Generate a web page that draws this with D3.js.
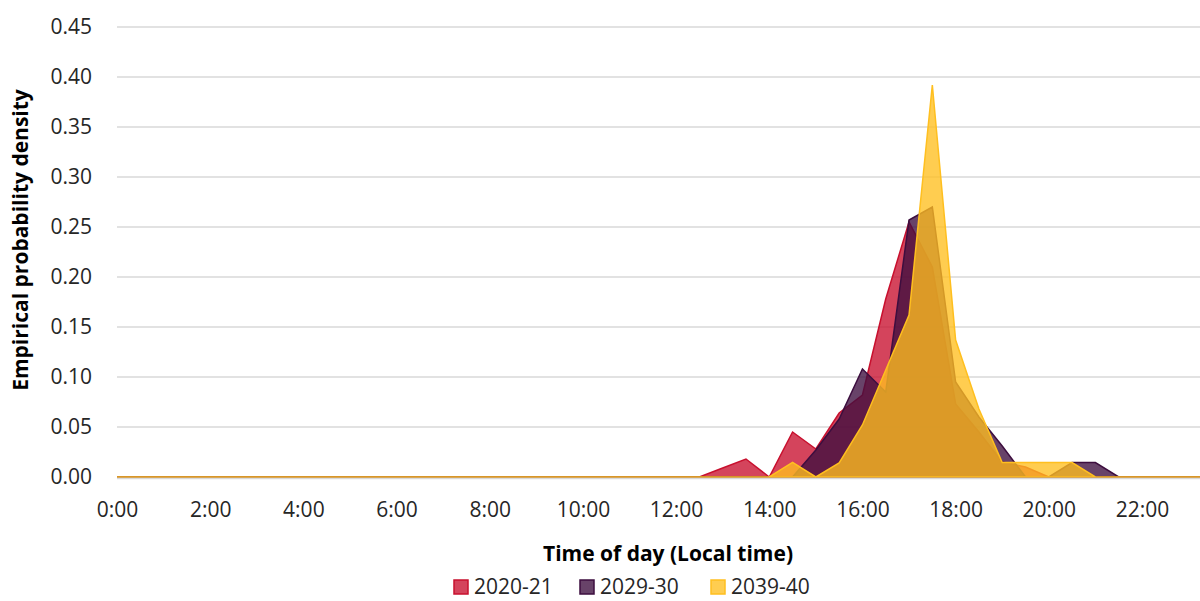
<!DOCTYPE html>
<html><head><meta charset="utf-8">
<script src="https://cdn.jsdelivr.net/npm/d3@7"></script>
<style>
html,body{margin:0;padding:0;background:#fff;}
svg{display:block;}
text{font-family:"Open Sans","Noto Sans",sans-serif;}
</style></head>
<body>
<svg id="chart" width="1200" height="601"></svg>
<script>
// Half-hour time categories 0:00 .. 23:30
const times = d3.range(48).map(i => Math.floor(i/2) + ":" + (i%2 ? "30" : "00"));
const tickLabels = ["0:00","2:00","4:00","6:00","8:00","10:00","12:00","14:00","16:00","18:00","20:00","22:00"];
const yTicks = [0,0.05,0.10,0.15,0.20,0.25,0.30,0.35,0.40,0.45];
const seriesNames = ["2020-21","2029-30","2039-40"];
const seriesColors = ["#C8102E","#3D0E3F","#FFBF1F"];

const z25 = new Array(25).fill(0);
// 2020-21 (index 25 = 12:30 ... 47 = 23:30)
const s2020 = z25.concat([0,0.009,0.018,0,0.045,0.028,0.064,0.082,0.178,0.255,0.21,0.073,0.045,0.015,0.01,0,0,0,0,0,0,0,0]);
// 2029-30
const s2029 = z25.concat([0,0,0,0,0,0.027,0.058,0.108,0.085,0.257,0.27,0.095,0.06,0.031,0,0,0.0145,0.0145,0,0,0,0,0]);
// 2039-40
const s2039 = z25.concat([0,0,0,0,0.0147,0,0.014,0.052,0.107,0.162,0.392,0.137,0.068,0.0145,0.0145,0.0145,0.0145,0,0,0,0,0,0]);
const seriesValues = [s2020, s2029, s2039];

const svg = d3.select("#chart");
const x = d3.scaleLinear().domain([0, 47]).range([117, 117 + 47*23.295]);
const y = d3.scaleLinear().domain([0, 0.45]).range([477, 27]);

// gridlines
svg.append("g").selectAll("line").data(yTicks.slice(1)).join("line")
  .attr("x1", 117).attr("x2", 1300)
  .attr("y1", d => y(d)).attr("y2", d => y(d))
  .attr("stroke", "#d9d9d9").attr("stroke-width", 1.5);

// y axis labels
const yAxis = d3.axisLeft(y).tickValues(yTicks).tickFormat(d3.format(".2f")).tickSize(0).tickPadding(25);
const gy = svg.append("g").attr("transform", "translate(117,0)").call(yAxis);
gy.select(".domain").remove();
gy.selectAll("text").attr("font-size", 21).attr("fill", "#262626");

// areas
const area = d3.area().x((d,i) => x(i)).y0(y(0)).y1(d => y(d));
seriesValues.forEach((vals, k) => {
  svg.append("path").datum(vals)
    .attr("d", area)
    .attr("fill", seriesColors[k]).attr("fill-opacity", 0.78)
    .attr("stroke", seriesColors[k]).attr("stroke-width", 1.5)
    .attr("stroke-linejoin", "miter");
});

// baseline
svg.append("line").attr("x1",117).attr("x2",1300).attr("y1",y(0)+1.5).attr("y2",y(0)+1.5)
  .attr("stroke","#d9d9d9").attr("stroke-width",1.5);

// x axis
const xAxis = d3.axisBottom(x).tickValues(d3.range(0, 48, 4))
  .tickFormat(i => tickLabels[i/4]).tickSize(0).tickPadding(25);
const gx = svg.append("g").attr("transform", "translate(0," + y(0) + ")").call(xAxis);
gx.select(".domain").remove();
gx.selectAll("text").attr("font-size", 21).attr("fill", "#262626");

// axis titles
svg.append("text").attr("x", 668).attr("y", 561).attr("text-anchor","middle")
  .attr("font-size", 21).attr("font-weight","bold").attr("fill","#000")
  .text("Time of day (Local time)");
svg.append("text").attr("transform","translate(28,240) rotate(-90)").attr("text-anchor","middle")
  .attr("font-size", 21).attr("font-weight","bold").attr("fill","#000")
  .text("Empirical probability density");

// legend
const legendX = [453, 579, 710];
const lg = svg.append("g");
seriesNames.forEach((n, k) => {
  lg.append("rect").attr("x", legendX[k]+1).attr("y", 580).attr("width", 14).attr("height", 14)
    .attr("fill", seriesColors[k]).attr("fill-opacity", 0.78)
    .attr("stroke", seriesColors[k]).attr("stroke-width", 1.5);
  lg.append("text").attr("x", legendX[k] + 21).attr("y", 594)
    .attr("font-size", 21).attr("fill", "#262626").text(n);
});
</script>
</body></html>
